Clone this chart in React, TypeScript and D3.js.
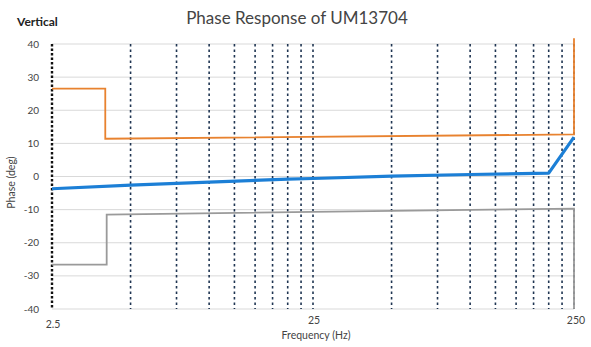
import React from "react";
import * as d3 from "d3";

const gridFreqs = [2.5, 5, 7.5, 10, 12.5, 15, 17.5, 20, 22.5, 25, 50, 75, 100, 125, 150, 175, 200, 225, 250];
const yTicks = [40, 30, 20, 10, 0, -10, -20, -30, -40];
const xTickLabels = [2.5, 25, 250];

const upperFreq = [2.5, 4, 4, 250, 250];
const upperPhase = [26.5, 26.5, 11.4, 12.7, 41.7];
const lowerFreq = [2.5, 4.05, 4.05, 250, 250];
const lowerPhase = [-26.6, -26.6, -11.5, -9.7, -40];
const measFreq = [2.5, 5, 10, 20, 25, 50, 100, 200, 250];
const measPhase = [-3.7, -2.6, -1.7, -0.8, -0.6, 0.1, 0.6, 1.0, 11.9];

const W = 591, H = 347;
const left = 52, right = 574, top = 44, bottom = 309;

export default function App() {
  const x = d3.scaleLog().domain([2.5, 250]).range([left, right]);
  const y = d3.scaleLinear().domain([-40, 40]).range([bottom, top]);
  const line = d3.line<[number, number]>().x(d => x(d[0])).y(d => y(d[1]));
  const up = line(upperFreq.map((f, i) => [f, upperPhase[i]]) as [number, number][]) || "";
  const lo = line(lowerFreq.map((f, i) => [f, lowerPhase[i]]) as [number, number][]) || "";
  const me = line(measFreq.map((f, i) => [f, measPhase[i]]) as [number, number][]) || "";
  const font = "Lato, 'Open Sans', sans-serif";
  return (
    <div style={{ position: "absolute", left: 0, top: 0 }}>
      <svg width={W} height={H} style={{ display: "block", background: "#fff" }} fontFamily={font}>
        {yTicks.map(t => (
          <line key={"h" + t} x1={left} x2={right} y1={y(t)} y2={y(t)} stroke="#d9d9d9" strokeWidth={1} />
        ))}
        {gridFreqs.slice(1).map(f => (
          <line key={"v" + f} x1={x(f)} x2={x(f)} y1={top} y2={bottom} stroke="#1f3552" strokeWidth={1.6} strokeDasharray="2.5,3" />
        ))}
        <line x1={left} x2={left} y1={top} y2={bottom} stroke="#111" strokeWidth={2.4} strokeDasharray="2.5,2" />
        <path d={lo} fill="none" stroke="#9a9a9a" strokeWidth={1.8} />
        <path d={up} fill="none" stroke="#e8822f" strokeWidth={1.8} />
        <path d={me} fill="none" stroke="#1c7fd6" strokeWidth={3.2} strokeLinejoin="round" />
        {yTicks.map(t => (
          <text key={"yl" + t} x={39} y={y(t) + 3.5} textAnchor="end" fontSize={10} fill="#444">{t}</text>
        ))}
        {xTickLabels.map((t, i) => (
          <text key={"xl" + t} x={x(t) + (i === 2 ? 2 : 1)} y={i === 0 ? 328 : 324} textAnchor="middle" fontSize={10.5} fill="#444">{t}</text>
        ))}
        <text x={316} y={339} textAnchor="middle" fontSize={10.5} fill="#444">Frequency (Hz)</text>
        <text transform={`translate(15,${(top + bottom) / 2 + 6}) rotate(-90)`} textAnchor="middle" fontSize={10.5} fill="#444">Phase (deg)</text>
        <text x={17} y={26} fontSize={12} fontWeight="bold" fill="#222">Vertical</text>
        <text x={297} y={24} textAnchor="middle" fontSize={17} fill="#444">Phase Response of UM13704</text>
      </svg>
    </div>
  );
}
